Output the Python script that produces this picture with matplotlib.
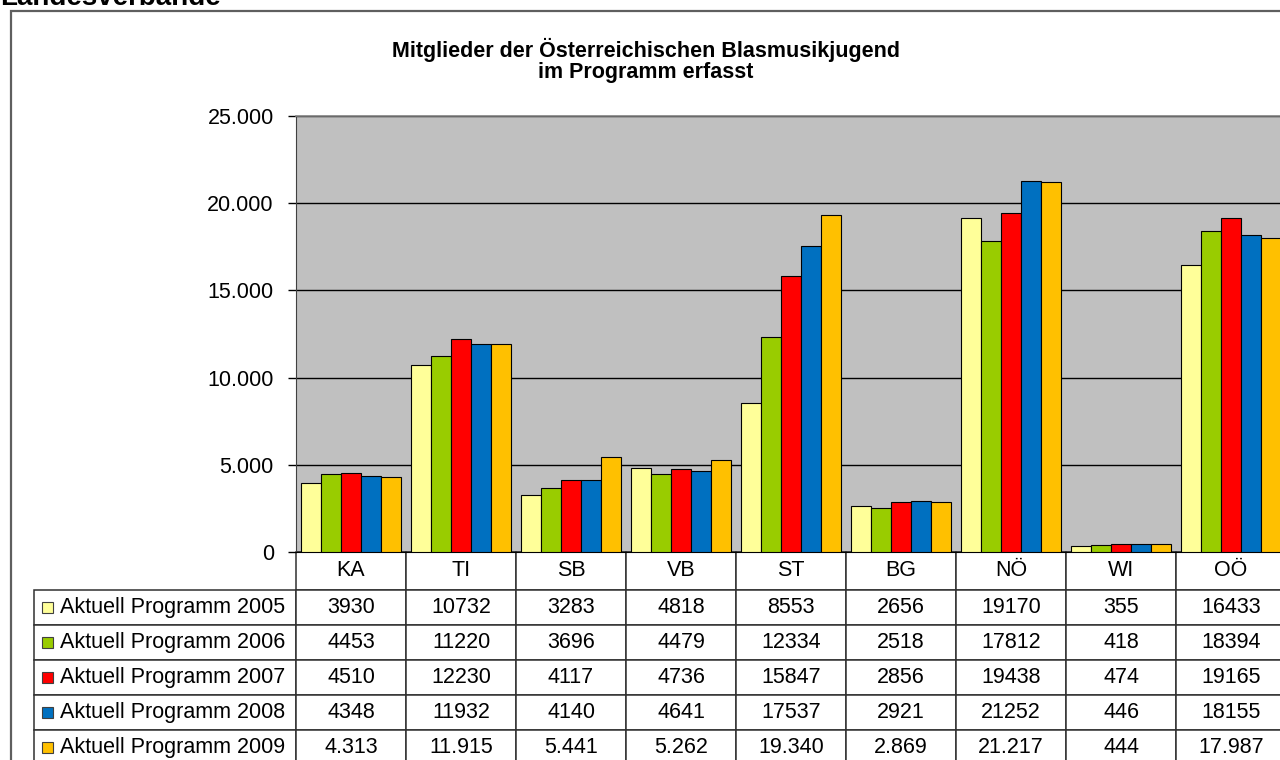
import matplotlib
matplotlib.use('Agg')
import matplotlib.pyplot as plt
import numpy as np
from matplotlib.patches import Rectangle
from matplotlib.table import Table
from matplotlib.ticker import FuncFormatter

plt.rcParams['font.family'] = ['Liberation Sans', 'DejaVu Sans']

regions = ['KA', 'TI', 'SB', 'VB', 'ST', 'BG', 'NÖ', 'WI', 'OÖ']
series_names = ['Aktuell Programm 2005', 'Aktuell Programm 2006', 'Aktuell Programm 2007',
                'Aktuell Programm 2008', 'Aktuell Programm 2009']
prog_2005 = [3930, 10732, 3283, 4818, 8553, 2656, 19170, 355, 16433]
prog_2006 = [4453, 11220, 3696, 4479, 12334, 2518, 17812, 418, 18394]
prog_2007 = [4510, 12230, 4117, 4736, 15847, 2856, 19438, 474, 19165]
prog_2008 = [4348, 11932, 4140, 4641, 17537, 2921, 21252, 446, 18155]
prog_2009 = [4313, 11915, 5441, 5262, 19340, 2869, 21217, 444, 17987]
colors = ['#FFFF99', '#99CC00', '#FF0000', '#0070C0', '#FFC000']

all_series = [prog_2005, prog_2006, prog_2007, prog_2008, prog_2009]


def de_thousands(v):
    return f"{int(v):,}".replace(',', '.')


W, H = 1280, 760
FS = 15.5
fig = plt.figure(figsize=(12.8, 7.6), dpi=100)
fig.patch.set_facecolor('white')

# outer chart frame (runs off the right/bottom of the picture)
fig.patches.append(Rectangle((11 / W, -0.1), 1.2, 1 - 11 / H + 0.1, transform=fig.transFigure,
                             fill=False, ec='#5f5f5f', lw=1.6))
fig.text(0, 1 - 5 / H, 'Landesverbände', fontsize=20, fontweight='bold', ha='left', va='baseline')
fig.text(646 / W, 1 - 60 / H, 'Mitglieder der Österreichischen Blasmusikjugend\nim Programm erfasst',
         fontsize=FS, fontweight='bold', ha='center', va='center', linespacing=1.0)

# plot area: left 296px, top 116px, bottom 552px, 110px per category
px_l, px_t, px_b, cat_w = 296, 116, 552, 110
ax_w, ax_h = cat_w * len(regions), px_b - px_t
ax = fig.add_axes([px_l / W, 1 - px_b / H, ax_w / W, ax_h / H])
ax.set_facecolor('#C0C0C0')

x = np.arange(len(regions))
bw = 20 / cat_w
for i, (vals, col) in enumerate(zip(all_series, colors)):
    ax.bar(x + (i - 2) * bw, vals, width=bw, color=col, edgecolor='black', linewidth=0.8, zorder=3)

ax.set_xlim(-0.5, len(regions) - 0.5)
ax.set_ylim(0, 25000)
ax.set_yticks(np.arange(0, 25001, 5000))
ax.yaxis.set_major_formatter(FuncFormatter(lambda v, p: de_thousands(v)))
ax.set_xticks([])
ax.tick_params(axis='y', labelsize=FS, length=6, width=1, pad=10, direction='out')
ax.yaxis.grid(True, color='black', linewidth=1)
ax.set_axisbelow(True)
ax.spines['right'].set_visible(False)
ax.spines['top'].set_color('#808080')
ax.spines['top'].set_linewidth(1.2)
ax.spines['left'].set_color('#404040')
ax.spines['bottom'].set_color('black')

# data table under the plot (in pixel proportions, scaled by bbox)
tbl_left, hdr_h, row_h = 34, 38, 35
lab_w = px_l - tbl_left
tbl_h = hdr_h + row_h * len(series_names)
tbl = Table(ax, bbox=[(tbl_left - px_l) / ax_w, -tbl_h / ax_h, (lab_w + ax_w) / ax_w, tbl_h / ax_h])
for j, reg in enumerate(regions):
    tbl.add_cell(0, j + 1, cat_w, hdr_h, text=reg, loc='center', facecolor='white', edgecolor='#303030')
for i, (name, vals) in enumerate(zip(series_names, all_series)):
    tbl.add_cell(i + 1, 0, lab_w, row_h, text=name, loc='left', facecolor='white', edgecolor='#303030')
    for j, v in enumerate(vals):
        txt = de_thousands(v) if i == len(series_names) - 1 else str(v)
        tbl.add_cell(i + 1, j + 1, cat_w, row_h, text=txt, loc='center', facecolor='white', edgecolor='#303030')
tbl.auto_set_font_size(False)
tbl.set_fontsize(FS)
for cell in tbl.get_celld().values():
    cell.set_linewidth(1.1)
ax.add_table(tbl)

# legend keys inside the row label cells
for i, col in enumerate(colors):
    cy = px_b + hdr_h + row_h * i + row_h / 2
    ax.add_patch(Rectangle(((42 - px_l) / ax_w, -(cy + 5.5 - px_b) / ax_h), 11 / ax_w, 11 / ax_h,
                           transform=ax.transAxes, facecolor=col, edgecolor='#404040', lw=0.8,
                           clip_on=False, zorder=5))

plt.savefig('out.png', dpi=100)
